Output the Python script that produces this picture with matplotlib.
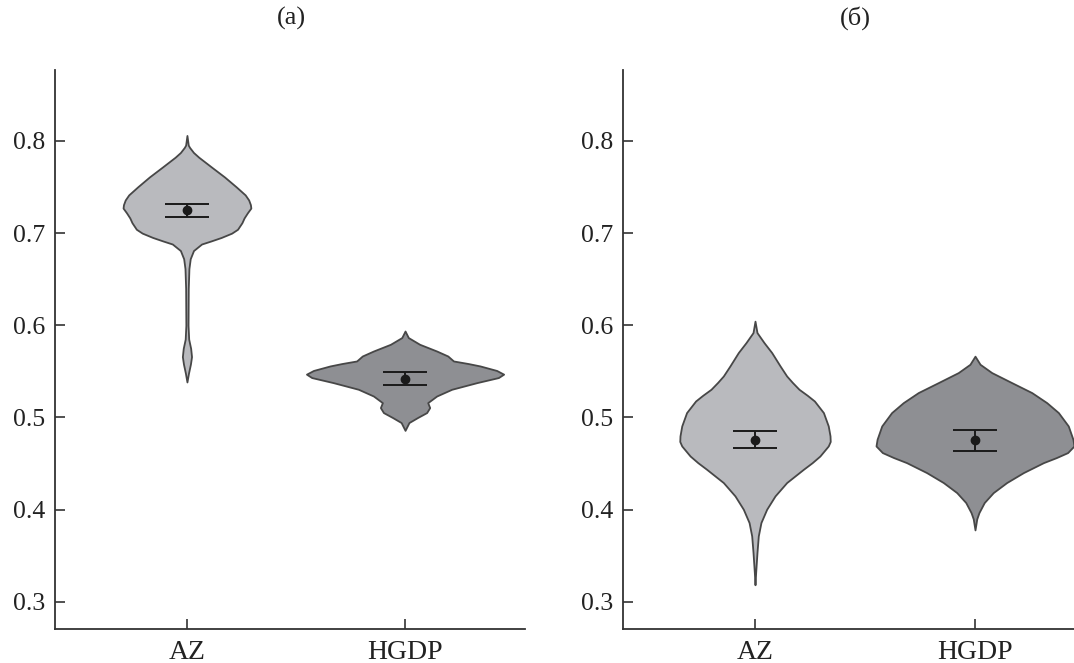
import matplotlib
matplotlib.use("Agg")
import matplotlib.pyplot as plt
import numpy as np

plt.rcParams['font.family'] = ['Liberation Serif', 'DejaVu Serif']

categories = ["AZ", "HGDP"]
panel_titles = ["(a)", "(б)"]
y_ticks = [0.3, 0.4, 0.5, 0.6, 0.7, 0.8]

# Violin outlines: y level and half-width (category units)
az_a_y  = [0.806, 0.7955, 0.793, 0.7875, 0.7824, 0.7718, 0.761, 0.7504, 0.7415, 0.736, 0.7309, 0.7272,
           0.722, 0.7165, 0.7113, 0.7042, 0.700, 0.6953, 0.6915, 0.6882, 0.6811, 0.6722, 0.6615, 0.640,
           0.600, 0.585, 0.575, 0.566, 0.558, 0.548, 0.5385]
az_a_hw = [0.0, 0.006, 0.012, 0.030, 0.054, 0.112, 0.172, 0.225, 0.267, 0.283, 0.291, 0.293,
           0.277, 0.262, 0.252, 0.232, 0.205, 0.157, 0.110, 0.067, 0.030, 0.015, 0.009, 0.006,
           0.005, 0.008, 0.017, 0.021, 0.016, 0.007, 0.0]

hgdp_a_y  = [0.5938, 0.5867, 0.5794, 0.5721, 0.5667, 0.5613, 0.5585, 0.5559, 0.5510, 0.547, 0.5433,
             0.5378, 0.5306, 0.5233, 0.5161, 0.5107, 0.5053, 0.4999, 0.4945, 0.486]
hgdp_a_hw = [0.0, 0.015, 0.067, 0.145, 0.196, 0.222, 0.290, 0.344, 0.420, 0.452, 0.428,
             0.329, 0.214, 0.145, 0.104, 0.113, 0.099, 0.057, 0.018, 0.0]

az_b_y  = [0.6045, 0.5921, 0.5812, 0.5704, 0.5559, 0.545, 0.5380, 0.5306, 0.5240, 0.5179, 0.5053, 0.4908,
           0.4800, 0.474, 0.4691, 0.4582, 0.4510, 0.4438, 0.4294, 0.4149, 0.4004, 0.386, 0.3715, 0.3535,
           0.3318, 0.3185]
az_b_hw = [0.0, 0.009, 0.041, 0.076, 0.114, 0.144, 0.170, 0.200, 0.238, 0.270, 0.311, 0.333,
           0.341, 0.342, 0.333, 0.295, 0.260, 0.220, 0.144, 0.091, 0.053, 0.027, 0.015, 0.009,
           0.003, 0.0]

hgdp_b_y  = [0.5665, 0.5577, 0.5487, 0.5378, 0.527, 0.5161, 0.5053, 0.4908, 0.4764, 0.4691, 0.4619,
             0.4565, 0.451, 0.4402, 0.4294, 0.4185, 0.4077, 0.3968, 0.390, 0.378]
hgdp_b_hw = [0.0, 0.023, 0.076, 0.167, 0.258, 0.326, 0.379, 0.424, 0.445, 0.450, 0.421,
             0.370, 0.311, 0.220, 0.144, 0.083, 0.042, 0.018, 0.008, 0.0]

# Means and error-bar limits
means_a = [0.7252, 0.5422]
lower_a = [0.7179, 0.5350]
upper_a = [0.7317, 0.5490]
means_b = [0.4761, 0.4752]
lower_b = [0.4665, 0.4633]
upper_b = [0.4858, 0.4867]

violin_colors = ["#b9babe", "#8e8f93"]
edge_color = "#474747"
axis_color = "#333333"

fig = plt.figure(figsize=(10.74, 6.63), dpi=100)
ax_a = fig.add_axes([55/1074, 34/663, 470/1074, 559/663])
ax_b = fig.add_axes([623/1074, 34/663, 451/1074, 559/663])

panels = [
    (ax_a, [(az_a_y, az_a_hw), (hgdp_a_y, hgdp_a_hw)], means_a, lower_a, upper_a, (-0.605, 1.55)),
    (ax_b, [(az_b_y, az_b_hw), (hgdp_b_y, hgdp_b_hw)], means_b, lower_b, upper_b, (-0.60, 1.45)),
]

for ax, shapes, means, lows, ups, xl in panels:
    for i, (yy, hw) in enumerate(shapes):
        yy = np.asarray(yy)
        hw = np.asarray(hw)
        ax.fill_betweenx(yy, i - hw, i + hw, facecolor=violin_colors[i],
                         edgecolor=edge_color, linewidth=1.3, zorder=2)
    pos = np.arange(len(categories))
    m = np.asarray(means)
    err = [m - np.asarray(lows), np.asarray(ups) - m]
    ax.errorbar(pos, m, yerr=err, fmt='o', color='#1a1a1a', markersize=6,
                capsize=15.5, capthick=1.4, elinewidth=1.4, zorder=3)
    ax.set_xlim(*xl)
    ax.set_ylim(0.2705, 0.877)
    ax.set_xticks(pos)
    ax.set_xticklabels(categories)
    ax.set_yticks(y_ticks)
    ax.set_yticklabels([f"{t:.1f}" for t in y_ticks])
    for s in ['top', 'right']:
        ax.spines[s].set_visible(False)
    for s in ['left', 'bottom']:
        ax.spines[s].set_color(axis_color)
        ax.spines[s].set_linewidth(1.3)
    ax.tick_params(axis='both', direction='in', length=7, width=1.2,
                   color=axis_color, labelcolor='#222222')
    ax.tick_params(axis='y', pad=7, labelsize=18.5)
    ax.tick_params(axis='x', pad=8, labelsize=20)
    ax.set_facecolor('white')

fig.text(291/1074, 1 - 18/663, panel_titles[0], ha='center', va='center',
         fontsize=19, color='#222222')
fig.text(855/1074, 1 - 18/663, panel_titles[1], ha='center', va='center',
         fontsize=19, color='#222222')

fig.savefig("out.png", dpi=100, facecolor='white')
